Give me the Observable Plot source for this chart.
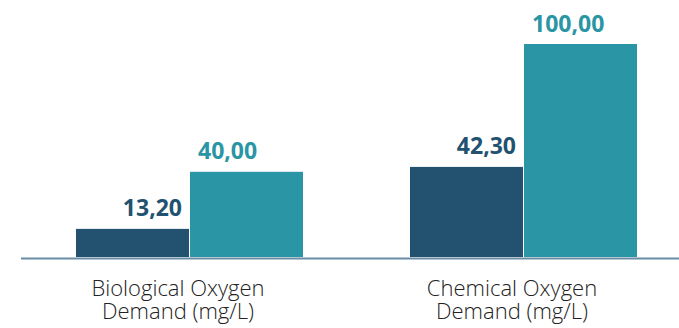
<!DOCTYPE html>
<html>
<head>
<meta charset="utf-8">
<script src="https://cdn.jsdelivr.net/npm/d3@7"></script>
<script src="https://cdn.jsdelivr.net/npm/@observablehq/plot@0.6"></script>
<style>
  html, body { margin: 0; padding: 0; background: #fff; }
  svg { font-family: "Open Sans", sans-serif; }
</style>
</head>
<body>
<div id="chart"></div>
<script>
const categories = ["Biological Oxygen\nDemand (mg/L)", "Chemical Oxygen\nDemand (mg/L)"];
const seriesDark = [13.20, 42.30];
const seriesTeal = [40.00, 100.00];

const darkColor = "#22526f";
const tealColor = "#2a95a4";

const dark = categories.map((c, i) => ({cat: c, value: seriesDark[i]}));
const teal = categories.map((c, i) => ({cat: c, value: seriesTeal[i]}));
const fmt = v => d3.format(".2f")(v).replace(".", ",");

const plot = Plot.plot({
  width: 679,
  height: 328,
  marginLeft: 21,
  marginRight: 0,
  marginTop: 44,
  marginBottom: 71,
  style: {fontFamily: "Open Sans, sans-serif", background: "#fff"},
  x: {domain: categories, paddingInner: 0.319, paddingOuter: 0.1418, align: 0.568, axis: null},
  y: {domain: [0, 100], axis: null},
  marks: [
    Plot.barY(dark, {x: "cat", y: "value", fill: darkColor, insetRight: 114}),
    Plot.barY(teal, {x: "cat", y: "value", fill: tealColor, insetLeft: 114}),
    Plot.ruleY([0], {stroke: "#6b8ca6", strokeWidth: 2, dy: 1}),
    Plot.text(dark, {x: "cat", y: "value", text: d => fmt(d.value), fill: darkColor,
      textAnchor: "end", lineAnchor: "bottom", dx: -8, dy: -13, fontSize: 23, fontWeight: "bold"}),
    Plot.text(teal, {x: "cat", y: "value", text: d => fmt(d.value), fill: tealColor,
      textAnchor: "start", lineAnchor: "bottom", dx: 8, dy: -13, fontSize: 23, fontWeight: "bold"}),
    Plot.text(categories, {x: d => d, frameAnchor: "bottom", text: d => d, lineAnchor: "top",
      dy: 22, dx: -12, fontSize: 22, fontWeight: 300, fill: "#222", lineHeight: 1.05})
  ]
});
document.getElementById("chart").appendChild(plot);
</script>
</body>
</html>
